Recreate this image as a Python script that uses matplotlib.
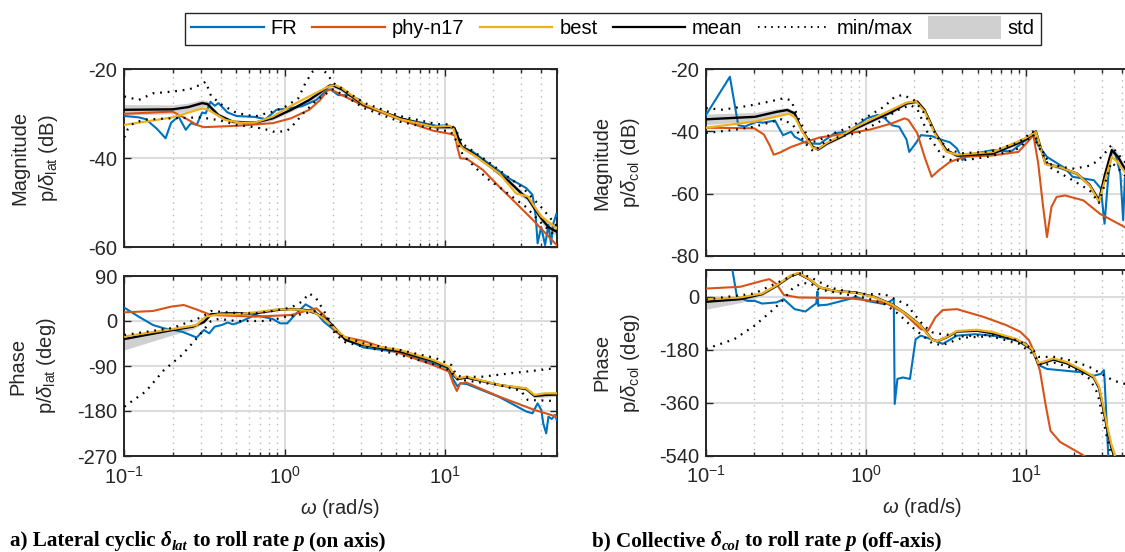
import matplotlib
matplotlib.use("Agg")
import numpy as np
import matplotlib.pyplot as plt
from matplotlib.patches import Rectangle
from matplotlib.lines import Line2D
from matplotlib.legend_handler import HandlerPatch
from matplotlib.text import Annotation
from matplotlib.ticker import FixedLocator, NullFormatter, LogFormatterSciNotation

plt.rcParams['font.family'] = ['Liberation Sans', 'DejaVu Sans']
plt.rcParams['mathtext.fontset'] = 'custom'
plt.rcParams['mathtext.rm'] = 'Liberation Sans'
plt.rcParams['mathtext.it'] = 'Liberation Sans:italic'
plt.rcParams['mathtext.bf'] = 'Liberation Sans:bold'
plt.rcParams['axes.unicode_minus'] = False

# ---------------- data: (a) lateral cyclic -> roll rate, magnitude (dB) ----------------
lat_fr_w = [0.1, 0.123, 0.136, 0.159, 0.181, 0.196, 0.218, 0.242, 0.261, 0.283, 0.306, 0.322, 0.345,
            0.367, 0.387, 0.441, 0.502, 0.652, 0.762, 0.891, 1.10, 1.285, 1.58, 1.85, 1.95, 2.166, 2.53,
            2.96, 3.12, 5.26, 8.87, 10.39, 11.5, 12.77, 14.95, 19.4, 25.2, 32.3, 35.3, 37.0, 38.0, 40.0,
            42.3, 44.4, 46.1, 47.5, 49.8, 50.0]
lat_fr_mag = [-30.5, -30.8, -31.2, -33.3, -35.5, -32.0, -30.6, -33.6, -32.1, -32.5, -29.7, -29.9, -27.3,
              -28.2, -27.6, -29.7, -30.5, -30.7, -31.2, -29.1, -28.7, -28.3, -26.9, -24.6, -24.6, -25.8, -25.8,
              -26.9, -28.2, -31.0, -32.7, -32.6, -33.3, -37.4, -38.5, -41.5, -44.5, -46.7, -48.2, -53.1, -59.1,
              -55.4, -59.5, -55.0, -59.3, -54.8, -52.5, -52.8]
lat_mean_w = [0.1, 0.2, 0.25, 0.306, 0.33, 0.387, 0.477, 0.652, 0.846, 1.10, 1.426, 1.67, 1.90, 2.0, 2.28,
              3.12, 4.05, 5.26, 6.83, 8.87, 10.93, 11.5, 11.8, 12.77, 14.95, 19.4, 25.2, 31.0, 33.1, 36.4,
              40.1, 44.5, 50.0]
lat_mean_mag = [-29.1, -29.0, -28.5, -27.6, -27.8, -30.3, -31.8, -32.0, -31.0, -29.1, -26.9, -25.2, -23.7,
                -23.6, -24.5, -28.0, -29.5, -31.0, -32.1, -33.0, -33.0, -33.2, -34.2, -37.4, -38.9, -41.9,
                -45.2, -48.3, -49.0, -51.3, -53.5, -55.5, -56.5]
lat_mag_std = [1.2, 1.0, 0.9, 0.8, 0.7, 0.5, 0.4, 0.4, 0.4, 0.4, 0.5, 0.5, 0.5, 0.5, 0.5, 0.4, 0.4, 0.4,
               0.4, 0.4, 0.4, 0.4, 0.5, 0.5, 0.5, 0.5, 0.5, 0.6, 0.7, 0.8, 0.9, 1.0, 1.0]
lat_best_w = [0.1, 0.2, 0.306, 0.33, 0.429, 0.529, 0.652, 0.846, 1.10, 1.426, 1.85, 2.055, 2.28, 3.12, 5.25,
              8.47, 10.8, 11.3, 12.1, 13.0, 15.7, 21.9, 27.9, 33.1, 36.4, 40.1, 50.0]
lat_best_mag = [-32.5, -30.8, -28.8, -29.0, -31.4, -32.0, -32.0, -30.6, -28.2, -26.1, -24.0, -23.5, -24.2,
                -27.8, -31.2, -32.9, -32.7, -33.2, -36.6, -37.8, -39.6, -43.4, -47.9, -48.6, -50.9, -53.1, -55.7]
lat_phy_w = [0.1, 0.2, 0.255, 0.283, 0.314, 0.502, 0.846, 1.10, 1.426, 1.67, 1.85, 1.95, 2.28, 3.12, 5.25,
             8.47, 10.8, 11.6, 12.0, 12.5, 13.7, 17.3, 21.9, 27.9, 35.6, 50.0]
lat_phy_mag = [-30.0, -29.5, -31.5, -32.5, -33.0, -32.7, -32.1, -31.0, -29.1, -26.9, -24.8, -24.5, -25.8,
               -28.2, -31.3, -33.8, -34.5, -34.9, -37.6, -40.0, -40.1, -42.6, -46.4, -50.1, -53.9, -59.5]
lat_max_w = [0.1, 0.123, 0.151, 0.2, 0.255, 0.306, 0.322, 0.348, 0.407, 0.502, 0.652, 0.846, 1.0, 1.22,
             1.354, 1.5, 1.67, 1.85, 2.0, 2.28, 3.12, 5.26, 8.87, 10.93, 12.1, 13.0, 19.4, 31.0, 40.1, 50.0]
lat_max_mag = [-26.1, -26.9, -25.4, -25.0, -24.5, -23.3, -22.8, -26.0, -28.0, -29.8, -30.6, -29.5, -28.5,
               -26.5, -23.0, -20.5, -19.7, -21.0, -23.0, -24.3, -27.5, -30.5, -32.3, -32.4, -34.5, -36.8,
               -41.2, -46.8, -51.0, -55.2]
lat_min_w = [0.1, 0.105, 0.115, 0.136, 0.2, 0.3, 0.4, 0.5, 0.652, 0.762, 0.846, 0.94, 1.04, 1.17, 1.3, 1.6,
             2.0, 2.4, 3.12, 5.26, 8.87, 10.93, 12.0, 13.0, 16.5, 19.0, 22.0, 32.0, 40.0, 50.0]
lat_min_mag = [-35.3, -33.5, -32.0, -31.3, -31.0, -30.8, -31.5, -32.5, -33.0, -33.5, -34.0, -34.0, -33.8,
               -32.0, -30.0, -26.8, -24.5, -26.0, -28.7, -31.8, -33.5, -34.0, -36.5, -39.3, -43.0, -44.9,
               -46.5, -50.9, -54.5, -57.8]

# ---------------- (a) phase (deg) ----------------
lat_fr_pw = [0.1, 0.123, 0.151, 0.177, 0.229, 0.283, 0.314, 0.339, 0.367, 0.407, 0.441, 0.477, 0.529, 0.652,
             0.846, 0.939, 1.04, 1.16, 1.354, 1.50, 1.757, 2.166, 2.53, 3.12, 5.26, 8.47, 10.6, 11.3, 12.0,
             12.5, 13.7, 21.9, 32.3, 35.3, 38.0, 40.1, 41.2, 43.0, 44.4, 46.6, 48.9, 50.0]
lat_fr_ph = [26.7, 8.7, -8.0, -14.7, -21.3, -33.0, -18.0, -24.7, -11.3, -8.0, -3.0, -6.7, -2.0, 12.0, 4.0,
             -4.7, -4.7, 12.0, 33.3, 25.0, -1.3, -24.7, -40.0, -53.0, -62.7, -84.7, -95.0, -117.0, -130.7,
             -124.7, -126.0, -152.0, -181.0, -184.7, -164.7, -178.0, -204.7, -224.7, -191.3, -196.0, -188.0,
             -198.0]
lat_mean_pw = [0.1, 0.2, 0.268, 0.314, 0.348, 0.429, 0.652, 0.891, 1.10, 1.354, 1.58, 1.85, 2.166, 2.40,
               3.12, 5.26, 8.47, 10.6, 11.5, 12.0, 13.7, 21.9, 32.3, 36.4, 42.3, 50.0]
lat_mean_ph = [-36.0, -18.0, -11.3, -2.0, 13.3, 15.3, 15.3, 22.0, 24.0, 22.0, 15.0, 2.0, -21.0, -38.0, -48.0,
               -61.0, -80.0, -93.0, -110.0, -116.0, -113.0, -128.0, -136.0, -150.0, -148.0, -147.0]
lat_ph_std_dn = [22.0, 10.0, 5.0, 2.0, 1.5, 1.5, 1.5, 1.5, 1.5, 1.5, 1.5, 1.5, 1.5, 1.5, 1.5, 1.5, 1.5,
                 1.5, 2.0, 2.0, 2.0, 2.0, 3.0, 4.0, 4.0, 4.0]
lat_ph_std_up = [2.0, 2.0, 2.0, 1.5, 1.5, 1.5, 1.5, 1.5, 1.5, 1.5, 1.5, 1.5, 1.5, 1.5, 1.5, 1.5, 1.5,
                 1.5, 2.0, 2.0, 2.0, 2.0, 3.0, 4.0, 5.0, 5.0]
lat_best_pw = [0.1, 0.2, 0.283, 0.322, 0.387, 0.5, 0.652, 0.891, 1.22, 1.50, 1.757, 2.055, 2.40, 3.12, 5.25,
               8.47, 10.6, 11.3, 12.0, 13.7, 21.9, 32.3, 36.4, 42.3, 50.0]
lat_best_ph = [-31.0, -16.0, -8.0, 8.7, 13.3, 13.3, 17.3, 23.0, 23.0, 18.7, 5.3, -14.7, -33.0, -46.7, -58.0,
               -78.0, -91.3, -104.7, -114.7, -111.3, -128.0, -134.7, -148.0, -144.7, -144.7]
lat_phy_pw = [0.1, 0.151, 0.196, 0.235, 0.283, 0.348, 0.652, 1.10, 1.426, 1.58, 1.757, 2.055, 2.28, 3.12,
              5.25, 8.47, 10.6, 11.3, 11.9, 12.5, 13.7, 21.9, 36.4, 50.0]
lat_phy_ph = [17.3, 20.0, 28.7, 32.0, 23.0, 12.0, 8.7, 12.0, 22.0, 25.3, 12.0, -18.0, -31.0, -40.0, -64.7,
              -88.0, -101.0, -124.7, -140.0, -124.7, -123.3, -151.3, -178.0, -191.3]
lat_max_pw = [0.1, 0.2, 0.306, 0.348, 0.5, 0.652, 0.846, 1.10, 1.285, 1.426, 1.58, 1.85, 2.166, 3.12, 5.26,
              8.87, 11.0, 11.8, 12.8, 17.3, 27.9, 36.4, 50.0]
lat_max_ph = [-28.0, -14.0, 8.0, 20.0, 16.0, 15.0, 20.0, 27.0, 38.7, 55.3, 45.0, 8.7, -28.0, -44.7, -58.0,
              -74.7, -88.0, -108.0, -112.0, -111.3, -103.3, -99.3, -94.0]
lat_min_pw = [0.1, 0.136, 0.177, 0.229, 0.283, 0.348, 0.387, 0.5, 0.762, 0.846, 1.0, 1.2, 1.58, 1.85, 2.055,
              2.4, 3.12, 5.26, 8.87, 11.0, 11.8, 12.8, 21.9, 30.0, 33.0, 50.0]
lat_min_ph = [-171.3, -141.0, -98.0, -68.0, -34.7, 0.0, 4.0, 0.0, 0.0, 2.0, 8.0, 12.0, 20.0, 5.0, -24.7,
              -42.7, -51.0, -68.0, -88.0, -100.0, -116.0, -118.0, -128.0, -140.0, -158.0, -160.0]

# ---------------- (b) collective -> roll rate, magnitude (dB) ----------------
col_fr_w = [0.1, 0.141, 0.159, 0.175, 0.207, 0.226, 0.27, 0.285, 0.303, 0.34, 0.358, 0.418, 0.464, 0.514,
            0.634, 0.779, 1.01, 1.18, 1.31, 1.45, 1.61, 1.79, 1.86, 2.04, 2.2, 2.57, 3.01, 3.34, 3.70, 4.0,
            4.33, 6.22, 8.06, 9.92, 11.0, 11.9, 13.5, 17.6, 19.5, 26.5, 29.3, 30.9, 32.6, 34.2, 36.0, 38.8,
            40.4, 41.4, 44.0]
col_fr_mag = [-34.7, -22.4, -38.0, -38.4, -36.9, -37.2, -36.5, -38.8, -41.2, -40.1, -41.7, -43.6, -43.9,
              -44.0, -40.6, -40.0, -35.8, -34.7, -35.8, -38.0, -38.5, -42.6, -46.6, -43.9, -41.2, -41.5,
              -42.8, -43.5, -45.5, -49.2, -47.5, -46.0, -46.5, -42.8, -40.6, -44.5, -48.2, -51.9, -54.6,
              -55.7, -58.4, -69.7, -54.6, -46.6, -47.0, -53.6, -68.6, -55.0, -60.0]
col_mean_w = [0.1, 0.202, 0.276, 0.322, 0.358, 0.397, 0.464, 0.501, 0.571, 0.703, 0.865, 1.12, 1.45, 1.79,
              2.09, 2.32, 2.71, 3.17, 3.70, 6.22, 8.7, 10.0, 11.5, 13.2, 16.3, 20.8, 25.0, 28.5, 31.0, 34.3,
              37.5, 41.3, 45.0]
col_mean_mag = [-36.1, -35.3, -33.7, -33.1, -34.2, -39.6, -44.9, -45.8, -43.9, -41.7, -39.0, -36.3, -33.7,
                -31.0, -30.4, -33.1, -40.6, -46.0, -47.8, -47.1, -44.0, -42.5, -40.0, -50.3, -51.6, -53.6,
                -57.3, -62.2, -54.1, -46.0, -48.2, -52.0, -55.0]
col_mag_std = [1.7, 1.4, 1.0, 0.8, 0.7, 0.6, 0.5, 0.5, 0.5, 0.5, 0.5, 0.5, 0.5, 0.5, 0.5, 0.5, 0.6, 0.6,
               0.5, 0.5, 0.5, 0.5, 0.5, 0.6, 0.6, 0.6, 0.8, 1.0, 1.2, 1.5, 1.2, 1.2, 1.2]
col_best_w = [0.1, 0.202, 0.276, 0.33, 0.36, 0.40, 0.464, 0.501, 0.571, 0.703, 0.865, 1.12, 1.45, 1.79,
              2.04, 2.32, 2.71, 3.17, 3.70, 6.22, 8.7, 10.0, 11.5, 13.2, 16.3, 20.8, 25.0, 28.5, 31.0, 34.3,
              37.5, 41.3, 45.0]
col_best_mag = [-38.8, -36.8, -35.2, -34.3, -35.5, -40.0, -45.3, -45.6, -43.6, -41.3, -38.5, -35.7, -33.0,
                -30.7, -30.3, -33.5, -41.0, -46.5, -47.5, -46.6, -43.5, -42.0, -40.2, -50.5, -51.5, -53.6,
                -57.5, -62.7, -56.0, -48.2, -50.0, -53.0, -56.0]
col_phy_w = [0.1, 0.2, 0.23, 0.25, 0.265, 0.29, 0.34, 0.42, 0.52, 0.78, 1.06, 1.45, 1.74, 1.84, 2.09, 2.32,
             2.57, 2.85, 3.34, 4.11, 6.22, 8.95, 10.45, 11.1, 11.9, 12.7, 13.5, 14.4, 15.5, 17.5, 22.8, 28.9,
             41.3, 45.0]
col_phy_mag = [-38.8, -39.0, -41.0, -44.5, -47.5, -46.8, -45.0, -43.3, -41.9, -40.6, -39.4, -37.4, -35.8,
               -36.3, -40.6, -48.2, -54.6, -52.5, -49.8, -48.2, -47.7, -46.6, -42.8, -41.2, -50.3, -63.2,
               -74.0, -64.3, -61.1, -60.6, -62.2, -66.5, -70.8, -72.0]
col_max_w = [0.1, 0.127, 0.182, 0.249, 0.306, 0.34, 0.38, 0.45, 0.5, 0.6, 0.8, 1.0, 1.3, 1.5, 1.7, 2.0, 2.3,
             2.8, 3.3, 4.0, 6.0, 9.0, 11.0, 12.0, 14.0, 17.0, 20.0, 25.0, 28.0, 31.0, 34.0, 37.0, 41.0, 45.0]
col_max_mag = [-32.5, -33.0, -31.8, -30.4, -29.3, -30.0, -36.0, -43.5, -43.0, -41.0, -38.5, -35.5, -32.0,
               -29.0, -28.2, -30.0, -34.0, -42.0, -46.0, -47.0, -46.5, -43.5, -40.0, -44.0, -50.5, -51.5,
               -52.0, -51.0, -49.5, -47.0, -44.5, -47.0, -49.5, -52.0]
col_min_w = [0.1, 0.15, 0.2, 0.3, 0.35, 0.42, 0.47, 0.55, 0.7, 0.9, 1.2, 1.6, 1.9, 2.1, 2.5, 3.0, 3.5, 4.5,
             6.0, 9.0, 11.0, 12.0, 14.0, 20.0, 25.0, 28.5, 31.0, 34.0, 37.0, 41.0, 45.0]
col_min_mag = [-40.5, -39.5, -38.5, -36.0, -38.0, -44.0, -46.5, -43.5, -41.5, -40.5, -37.0, -33.0, -31.5,
               -33.0, -42.0, -48.0, -49.5, -49.0, -48.0, -45.5, -41.0, -45.0, -51.5, -56.0, -59.0, -63.0,
               -57.0, -50.0, -51.5, -54.0, -56.0]

# ---------------- (b) phase (deg) ----------------
col_fr_pw = [0.1, 0.13, 0.146, 0.156, 0.182, 0.202, 0.224, 0.276, 0.306, 0.358, 0.418, 0.464, 0.488, 0.497,
             0.503, 0.51, 0.571, 0.779, 0.865, 1.01, 1.31, 1.49, 1.51, 1.57, 1.70, 1.88, 2.04, 2.2, 2.71,
             3.01, 3.70, 4.8, 6.22, 8.06, 9.92, 11.0, 12.2, 13.5, 17.6, 22.7, 26.5, 29.3, 30.6, 30.9, 32.6,
             34.0]
col_fr_ph = [400.0, 200.0, 92.0, 0.0, -15.0, -15.0, -24.0, -20.0, -9.0, -43.0, -51.0, -32.0, -24.0, 17.0,
             -32.0, -30.0, -28.0, -9.0, -1.0, -15.0, -26.0, -9.0, -365.0, -280.0, -275.0, -280.0, -145.0,
             -133.0, -150.0, -161.0, -133.0, -128.0, -133.0, -145.0, -159.0, -185.0, -235.0, -246.0,
             -252.0, -258.0, -269.0, -263.0, -250.0, -280.0, -540.0, -700.0]
col_mean_pw = [0.1, 0.164, 0.224, 0.276, 0.34, 0.377, 0.44, 0.514, 0.634, 0.865, 1.12, 1.45, 1.79, 2.2,
               2.57, 2.78, 3.17, 3.7, 4.92, 6.22, 8.76, 10.9, 11.9, 12.5, 14.8, 18.0, 22.9, 26.4, 28.5, 30.3,
               32.1, 34.0, 35.8, 40.0, 45.0]
col_mean_ph = [-18.0, -9.0, 8.0, 36.0, 70.0, 78.0, 59.0, 30.5, 19.0, 13.6, -1.0, -26.0, -60.0, -99.0,
               -145.0, -152.0, -139.0, -119.0, -116.0, -125.0, -148.0, -180.0, -228.0, -227.0, -214.0,
               -227.0, -256.0, -275.0, -310.0, -380.0, -450.0, -510.0, -550.0, -650.0, -750.0]
col_ph_std_dn = [25.0, 12.0, 6.0, 3.0, 2.0, 2.0, 2.0, 2.0, 2.0, 2.0, 2.0, 2.0, 2.0, 2.0, 3.0, 3.0, 3.0, 3.0,
                 3.0, 3.0, 3.0, 3.0, 4.0, 4.0, 4.0, 4.0, 4.0, 5.0, 6.0, 8.0, 10.0, 15.0, 25.0, 40.0, 50.0]
col_ph_std_up = [6.0, 4.0, 3.0, 3.0, 2.0, 2.0, 2.0, 2.0, 2.0, 2.0, 2.0, 2.0, 2.0, 2.0, 3.0, 3.0, 3.0, 3.0,
                 3.0, 3.0, 3.0, 3.0, 4.0, 4.0, 4.0, 4.0, 4.0, 5.0, 6.0, 8.0, 10.0, 15.0, 25.0, 40.0, 50.0]
col_best_pw = [0.1, 0.164, 0.224, 0.276, 0.34, 0.377, 0.44, 0.514, 0.634, 0.865, 1.12, 1.45, 1.79, 2.2,
               2.57, 2.78, 3.17, 3.7, 4.92, 6.22, 8.76, 10.9, 11.9, 12.5, 14.8, 18.0, 22.9, 26.4, 28.5, 30.3,
               32.1, 34.0, 35.8, 40.0, 45.0]
col_best_ph = [-9.0, -3.0, 10.0, 38.0, 72.0, 80.0, 60.0, 31.0, 19.0, 12.0, -2.0, -27.0, -61.0, -100.0,
               -146.0, -152.0, -138.0, -117.0, -113.0, -121.0, -145.0, -178.0, -226.0, -224.0, -210.0,
               -223.0, -252.0, -272.0, -305.0, -370.0, -440.0, -500.0, -540.0, -640.0, -740.0]
col_phy_pw = [0.1, 0.164, 0.224, 0.249, 0.276, 0.306, 0.377, 0.779, 1.31, 1.70, 2.2, 2.44, 2.71, 3.01, 3.7,
              5.4, 7.5, 9.2, 10.4, 11.1, 12.2, 13.2, 14.2, 16.3, 22.9, 30.0, 45.0]
col_phy_ph = [27.0, 33.0, 53.0, 59.0, 42.0, 5.6, -3.4, -5.6, -20.0, -54.0, -111.0, -116.0, -71.0, -46.0,
              -43.0, -69.0, -97.0, -120.0, -148.0, -182.0, -252.0, -364.0, -456.0, -494.0, -540.0, -580.0,
              -640.0]
col_max_pw = [0.1, 0.2, 0.3, 0.38, 0.45, 0.6, 0.8, 1.0, 1.3, 1.6, 1.8, 2.0, 2.3, 2.6, 3.0, 4.0, 6.0, 9.0,
              11.0, 12.0, 15.0, 20.0, 25.0, 30.0, 35.0, 40.0, 45.0]
col_max_ph = [-10.0, 10.0, 55.0, 80.0, 65.0, 30.0, 15.0, 8.0, 8.0, -15.0, -28.0, -60.0, -100.0, -122.0,
              -128.0, -135.0, -130.0, -150.0, -180.0, -205.0, -205.0, -220.0, -240.0, -265.0, -285.0, -295.0,
              -300.0]
col_min_pw = [0.1, 0.15, 0.2, 0.25, 0.3, 0.35, 0.4, 0.45, 0.5, 0.7, 1.0, 1.3, 1.6, 2.0, 2.6, 3.0, 4.0, 6.0,
              9.0, 11.0, 12.5, 15.0, 20.0, 25.0, 28.0, 32.0, 35.0, 40.0, 45.0]
col_min_ph = [-178.0, -145.0, -100.0, -55.0, -15.0, 30.0, 45.0, 45.0, 25.0, 10.0, -5.0, -25.0, -60.0,
              -110.0, -160.0, -165.0, -140.0, -135.0, -160.0, -195.0, -235.0, -225.0, -245.0, -280.0,
              -330.0, -480.0, -560.0, -650.0, -700.0]

legend_labels = ['FR', 'phy-n17', 'best', 'mean', 'min/max', 'std']
caption_a = ['a) Lateral cyclic', 'δ', 'lat', 'to roll rate', 'p', '(on axis)']
caption_b = ['b) Collective', 'δ', 'col', 'to roll rate', 'p', '(off-axis)']

# ---------------- style ----------------
C_FR = '#0072BD'
C_PHY = '#D95319'
C_BEST = '#EDB120'
C_STD = '#d0d0d0'
C_AX = '#262626'
DOT = (0, (0.8, 2.6))
FS = 14.5

W, H = 1125, 552
fig = plt.figure(figsize=(W / 100, H / 100), dpi=100)


def add_axes(x0, x1, y0, y1):
    return fig.add_axes([x0 / W, 1 - y1 / H, (x1 - x0) / W, (y1 - y0) / H])


ax_lm = add_axes(124.3, 556.7, 69.3, 247.3)
ax_lp = add_axes(124.3, 556.7, 276.0, 456.0)
ax_rm = add_axes(706.0, 1138.0, 69.3, 255.7)
ax_rp = add_axes(706.0, 1138.0, 270.0, 455.5)


def draw(ax, mw, m, sdn, sup, mxw, mx, mnw, mn, frw, fr, phw, ph, bw, b):
    m_arr = np.asarray(m)
    ax.fill_between(mw, m_arr - np.asarray(sdn), m_arr + np.asarray(sup), color=C_STD, lw=0, zorder=1)
    ax.plot(frw, fr, color=C_FR, lw=1.5, zorder=3)
    ax.plot(phw, ph, color=C_PHY, lw=1.5, zorder=3.2)
    ax.plot(mw, m, color='k', lw=1.7, zorder=3.4)
    ax.plot(bw, b, color=C_BEST, lw=1.6, zorder=3.6)
    ax.plot(mxw, mx, color='k', lw=1.6, ls=DOT, zorder=4)
    ax.plot(mnw, mn, color='k', lw=1.6, ls=DOT, zorder=4)


draw(ax_lm, lat_mean_w, lat_mean_mag, lat_mag_std, lat_mag_std, lat_max_w, lat_max_mag, lat_min_w,
     lat_min_mag, lat_fr_w, lat_fr_mag, lat_phy_w, lat_phy_mag, lat_best_w, lat_best_mag)
draw(ax_lp, lat_mean_pw, lat_mean_ph, lat_ph_std_dn, lat_ph_std_up, lat_max_pw, lat_max_ph, lat_min_pw,
     lat_min_ph, lat_fr_pw, lat_fr_ph, lat_phy_pw, lat_phy_ph, lat_best_pw, lat_best_ph)
draw(ax_rm, col_mean_w, col_mean_mag, col_mag_std, col_mag_std, col_max_w, col_max_mag, col_min_w,
     col_min_mag, col_fr_w, col_fr_mag, col_phy_w, col_phy_mag, col_best_w, col_best_mag)
draw(ax_rp, col_mean_pw, col_mean_ph, col_ph_std_dn, col_ph_std_up, col_max_pw, col_max_ph, col_min_pw,
     col_min_ph, col_fr_pw, col_fr_ph, col_phy_pw, col_phy_ph, col_best_pw, col_best_ph)

minor = [k * 10.0 ** e for e in (-1, 0, 1) for k in range(2, 10)]
for ax, ylim, yt, bottom in [(ax_lm, (-60, -20), [-60, -40, -20], False),
                             (ax_lp, (-270, 90), [-270, -180, -90, 0, 90], True),
                             (ax_rm, (-80, -20), [-80, -60, -40, -20], False),
                             (ax_rp, (-540, 90), [-540, -360, -180, 0], True)]:
    ax.set_xscale('log')
    ax.set_xlim(0.1, 50)
    ax.set_ylim(*ylim)
    ax.set_yticks(yt)
    ax.set_yticklabels([str(v) for v in yt])
    ax.xaxis.set_major_locator(FixedLocator([0.1, 1, 10]))
    ax.xaxis.set_minor_locator(FixedLocator(minor))
    ax.xaxis.set_minor_formatter(NullFormatter())
    if bottom:
        ax.xaxis.set_major_formatter(LogFormatterSciNotation())
    else:
        ax.xaxis.set_major_formatter(NullFormatter())
    ax.grid(True, which='major', color='#dcdcdc', lw=1.5, ls='-', zorder=0)
    ax.grid(True, which='minor', axis='x', color='#b8b8b8', lw=1.0, ls=(0, (1, 3.5)), zorder=0)
    ax.set_axisbelow(True)
    ax.tick_params(which='both', direction='in', top=True, right=True, color=C_AX,
                   labelsize=FS, labelcolor=C_AX, width=1.0)
    ax.tick_params(which='major', length=5, pad=5)
    ax.tick_params(which='minor', length=3)
    ax.tick_params(axis='x', which='major', pad=7)
    for s in ax.spines.values():
        s.set_color(C_AX)
        s.set_linewidth(1.4)
    if bottom:
        ax.set_xlabel(r'$\omega$ (rad/s)', fontsize=FS, color=C_AX)

ax_lp.xaxis.set_label_coords(0.5, -0.225)
ax_rp.xaxis.set_label_coords(0.5, -0.218)

ylab = [(ax_lm, 'Magnitude\np/$\\delta_{\\mathrm{lat}}$ (dB)', 35.0),
        (ax_lp, 'Phase\np/$\\delta_{\\mathrm{lat}}$ (deg)', 33.0),
        (ax_rm, 'Magnitude\np/$\\delta_{\\mathrm{col}}$ (dB)', 617.5),
        (ax_rp, 'Phase\np/$\\delta_{\\mathrm{col}}$ (deg)', 617.5)]
for ax, txt, xc in ylab:
    x0 = ax.get_position().x0 * W
    w = ax.get_position().width * W
    ax.set_ylabel(txt, fontsize=FS, color=C_AX, linespacing=1.45, va='center', ha='center',
                  multialignment='center')
    ax.yaxis.set_label_coords((xc - x0) / w, 0.5)

# ---------------- legend ----------------
handles = [Line2D([], [], color=C_FR, lw=1.6),
           Line2D([], [], color=C_PHY, lw=1.6),
           Line2D([], [], color=C_BEST, lw=1.6),
           Line2D([], [], color='k', lw=1.6),
           Line2D([], [], color='k', lw=1.4, ls=DOT),
           Rectangle((0, 0), 1, 1, facecolor=C_STD, edgecolor='none')]


def std_patch(legend, orig_handle, xdescent, ydescent, width, height, fontsize):
    return Rectangle((-xdescent, -ydescent - 0.3 * height), width, height * 1.6)


leg = fig.legend(handles, legend_labels, loc='center', bbox_to_anchor=(613 / W, 1 - 29 / H), ncol=6,
                 frameon=True, fancybox=False, edgecolor=C_AX, framealpha=1, fontsize=FS,
                 handlelength=3.6, handletextpad=0.35, columnspacing=0.75, borderpad=0.3,
                 handler_map={Rectangle: HandlerPatch(patch_func=std_patch)})
leg.get_frame().set_linewidth(1.0)
for t in leg.get_texts():
    t.set_color('k')


# ---------------- captions ----------------
def caption(x_px, parts):
    yb = 1 - 546.0 / H
    ysub = 1 - 550.0 / H
    prev = None
    styles = ['normal', 'italic', 'italic', 'normal', 'italic', 'normal']
    gaps = [0, 3.7, 0.2, 3.7, 3.7, 3.7]
    for i, txt in enumerate(parts):
        sub = (i == 2)
        kw = dict(fontfamily='Liberation Serif', fontweight='bold', fontstyle=styles[i],
                  fontsize=10.5 if sub else 15.2, color='k', va='baseline', ha='left')
        if prev is None:
            prev = fig.text(x_px / W, yb, txt, **kw)
        else:
            a = Annotation(txt, xy=(1, ysub if sub else yb), xycoords=(prev, 'figure fraction'),
                           xytext=(gaps[i], 0), textcoords='offset points', **kw)
            fig.add_artist(a)
            prev = a


caption(10, caption_a)
caption(592, caption_b)

fig.savefig('out.png', dpi=100)
